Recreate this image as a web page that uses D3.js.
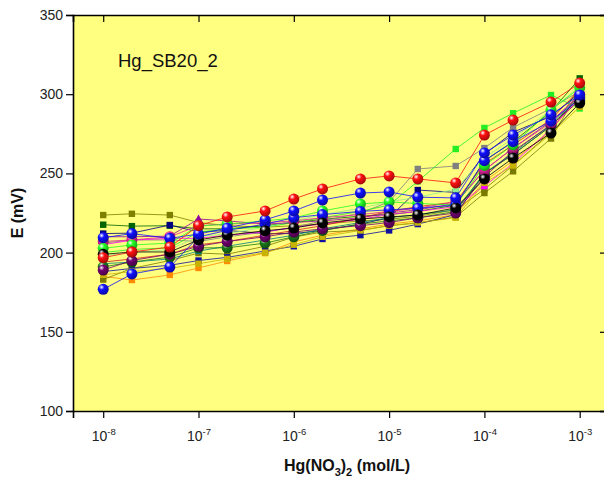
<!DOCTYPE html>
<html><head><meta charset="utf-8">
<script src="https://cdn.jsdelivr.net/npm/d3@7"></script>
<style>body{margin:0;background:#fff;} svg{display:block;}</style>
</head><body>
<svg id="chart" width="604" height="482"></svg>
<script>
// ---------- data ----------
const concentrations = [1e-8,2e-8,5e-8,1e-7,2e-7,5e-7,1e-6,2e-6,5e-6,1e-5,2e-5,5e-5,1e-4,2e-4,5e-4,1e-3];
const yTicks = [100,150,200,250,300,350];
const xTickExponents = [-8,-7,-6,-5,-4,-3];
const chartLabel = "Hg_SB20_2";

// square-marker series
const olive1   = [223.7,224.5,223.7,219,217,216,217,218,220,221,223,227,240,255,276,305];
const dkgreen1 = [217.6,216.7,217,215,215,217,219,221,223,224,226,230,258,270,289,310];
const navy1    = [212,212.3,217.4,213,214,212,212,214,218,222,239.5,238,262,276,286,301];
const gray1    = [206,208,208,207,210,213,216,220,225,232,252.8,254.7,266,279,291,302];
const green1   = [200,202,203,213,215,216,219,222,226,230,245,265.4,278.7,288,299.5,291];
const orange1  = [185,182.7,185.9,190.3,194.7,199.7,206.7,211,215,218,220,224,245,258,277,300];
const olive2   = [183,190,195,199.7,199,204,209.8,213,214,217,218.7,222.5,237.6,251.3,272,303];
const navy2    = [188,190,192,195,197,201,204,208.6,211,214,218,224,250,262,280,298];
const magenta1 = [205,207.9,209,209,211,213,216,218,221,224,226,229,242,256.3,278,298];
const red1     = [194,196,199,205,207,211,214,217,222,226,229,232,256,268,284,303];
const ltgreen1 = [198,200,202,210,212,216,220,224,228,232,235,240,260,272,290,305];
const gold1    = [186,188,190,193,196,200,205,210,214,217,219,222,244,255,275,292];
const teal1    = [193,194,196,201,204,208,211,215,219,222,224,227,250,263,281,299];
// triangle series
const purpleTri = [210,210,210.4,221.2,220,218,219,220,222,225,227,231,252,266,283,299];
// sphere-marker series
const darkgreenBall = [191,194,197.2,203,203,206,210,214,218,220,222,226,250,262,280,298];
const purpleBall    = [189,195,199,204,207,210,213,215,217,219,222,225,248,264,280.5,296];
const magentaBall   = [207,208,210,217,218,219,220,222,224,226,228,232,252,266,282,300];
const greenBall     = [202.7,204.8,206,216.7,218,220,221.9,226.3,230.7,232,231,230,255,268,290,304];
const blueBall2     = [176.8,186.5,190.9,210,214,218,222,224,226,227,228,230,258,270,283,297];
const blackBall     = [198.9,200.4,200.4,208,211,213.8,215.5,218.7,221.2,222.5,223.7,228.2,246.5,259.7,275.5,294.4];
const blueBall1     = [209.4,212,209,211.7,215.5,220.7,226.3,233.2,237.6,238.3,235,234.5,262.9,274.2,287,299.5];
const redBall       = [196.8,200.4,203.5,217,222.5,226.3,233.8,240.2,246.5,248.4,246.5,244,274.2,283.7,295,307];

// styles (kept separate from values)
const seriesList = [
  {v: olive1,   c: "#808000", m: "square"},
  {v: dkgreen1, c: "#006400", m: "square"},
  {v: navy1,    c: "#000080", m: "square"},
  {v: gray1,    c: "#808080", m: "square"},
  {v: green1,   c: "#22ee22", m: "square"},
  {v: orange1,  c: "#ff8c00", m: "square"},
  {v: olive2,   c: "#7a7a00", m: "square"},
  {v: navy2,    c: "#1010a0", m: "square"},
  {v: magenta1, c: "#ff00ff", m: "square"},
  {v: red1,     c: "#d02020", m: "square"},
  {v: ltgreen1, c: "#90ee90", m: "square"},
  {v: gold1,    c: "#c8b400", m: "square"},
  {v: teal1,    c: "#008080", m: "square"},
  {v: purpleTri,c: "#9400a0", m: "triangle"},
  {v: darkgreenBall, c: "#1a7a1a", m: "ball"},
  {v: purpleBall,    c: "#700070", m: "ball"},
  {v: magentaBall,   c: "#e0209a", m: "ball"},
  {v: greenBall,     c: "#22ff22", m: "ball"},
  {v: blueBall2,     c: "#1010ff", m: "ball"},
  {v: blackBall,     c: "#000000", m: "ball"},
  {v: blueBall1,     c: "#1010ff", m: "ball"},
  {v: redBall,       c: "#ff1010", m: "ball"}
];

// ---------- layout ----------
const svg = d3.select("#chart");
const pL = 73, pR = 608, pT = 15, pB = 411;
const x = d3.scaleLog().domain([Math.pow(10,-8.317), Math.pow(10,-2.703)]).range([pL, pR]);
const y = d3.scaleLinear().domain([100,350]).range([pB, pT]);
const font = "'Liberation Sans', Arial, sans-serif";

svg.append("rect").attr("x",pL).attr("y",pT).attr("width",pR-pL).attr("height",pB-pT).attr("fill","#ffff80");

const majorX = xTickExponents.map(e => Math.pow(10,e));
const minorX = [];
for (let e = -9; e <= -3; e++) for (let k = 2; k <= 9; k++) {
  const v = k*Math.pow(10,e);
  if (v >= x.domain()[0] && v <= x.domain()[1]) minorX.push(v);
}
const minorY = [125,175,225,275,325];

function supLabels(sel){
  sel.selectAll(".tick text").each(function(d){
    const t = d3.select(this);
    const e = Math.round(Math.log10(d));
    t.text(null);
    t.append("tspan").text("10");
    t.append("tspan").attr("dy","-6").attr("font-size","9.5px").text(String(e));
  });
}

const gData = svg.append("g");

// bottom axis
const gB = svg.append("g").attr("transform",`translate(0,${pB})`);
gB.call(d3.axisBottom(x).tickValues(minorX).tickSize(4).tickFormat(""));
gB.call(d3.axisBottom(x).tickValues(majorX).tickSize(7).tickPadding(13).tickFormat(d=>d));
gB.call(supLabels);
// top axis (ticks inward)
const gT = svg.append("g").attr("transform",`translate(0,${pT})`);
gT.call(d3.axisBottom(x).tickValues(minorX).tickSize(4).tickFormat(""));
gT.call(d3.axisBottom(x).tickValues(majorX).tickSize(7).tickFormat(""));
// left axis
const gL = svg.append("g").attr("transform",`translate(${pL},0)`);
gL.call(d3.axisLeft(y).tickValues(minorY).tickSize(4).tickFormat(""));
gL.call(d3.axisLeft(y).tickValues(yTicks).tickSize(7).tickPadding(3));
// right axis (ticks inward)
const gR = svg.append("g").attr("transform",`translate(${pR},0)`);
gR.call(d3.axisRight(y).tickValues(minorY).tickSize(-4).tickFormat(""));
gR.call(d3.axisRight(y).tickValues(yTicks).tickSize(-8).tickFormat(""));

svg.selectAll(".domain").attr("stroke","#000").attr("stroke-width",1.6);
svg.selectAll(".tick line").attr("stroke","#000").attr("stroke-width",1.2);
svg.selectAll(".tick text").attr("font-family",font).attr("font-size","14px").attr("fill","#222");
gB.selectAll(".tick text").attr("font-size","14px");

// gradients for balls
const defs = svg.append("defs");
seriesList.forEach((s,i)=>{
  if (s.m !== "ball") return;
  const g = defs.append("radialGradient").attr("id","ball"+i).attr("cx","35%").attr("cy","30%").attr("r","70%");
  g.append("stop").attr("offset","0%").attr("stop-color","#ffffff");
  g.append("stop").attr("offset","35%").attr("stop-color",s.c);
  g.append("stop").attr("offset","100%").attr("stop-color",d3.color(s.c).darker(1.2));
});

// lines + markers
const line = d3.line().x((d,i)=>x(concentrations[i])).y(d=>y(d));
seriesList.forEach((s,i)=>{
  gData.append("path").datum(s.v).attr("d",line).attr("fill","none").attr("stroke",s.c).attr("stroke-width",0.9).attr("opacity",0.9);
});
seriesList.forEach((s,i)=>{
  const g = gData.append("g");
  const pts = s.v.map((v,j)=>({cx:x(concentrations[j]), cy:y(v)}));
  if (s.m === "square") {
    g.selectAll("rect").data(pts).join("rect")
      .attr("x",d=>d.cx-3.2).attr("y",d=>d.cy-3.2).attr("width",6.4).attr("height",6.4).attr("fill",s.c);
  } else if (s.m === "triangle") {
    g.selectAll("path").data(pts).join("path")
      .attr("d",d=>`M${d.cx},${d.cy-4.5}L${d.cx+4.2},${d.cy+3.2}L${d.cx-4.2},${d.cy+3.2}Z`).attr("fill",s.c);
  } else {
    g.selectAll("circle").data(pts).join("circle")
      .attr("cx",d=>d.cx).attr("cy",d=>d.cy).attr("r",5.5).attr("fill",`url(#ball${i})`);
  }
});

// texts
svg.append("text").attr("x",118).attr("y",66.5).attr("font-family",font).attr("font-size","18.5px").attr("fill","#111").text(chartLabel);

svg.append("text").attr("transform","translate(23,213) rotate(-90)").attr("text-anchor","middle")
  .attr("font-family",font).attr("font-weight","bold").attr("font-size","16px").attr("fill","#111").text("E (mV)");

const xt = svg.append("text").attr("x",347).attr("y",471).attr("text-anchor","middle")
  .attr("font-family",font).attr("font-weight","bold").attr("font-size","16px").attr("fill","#111");
xt.append("tspan").text("Hg(NO");
xt.append("tspan").attr("dy","5").attr("font-size","11px").text("3");
xt.append("tspan").attr("dy","-5").text(")");
xt.append("tspan").attr("dy","5").attr("font-size","11px").text("2");
xt.append("tspan").attr("dy","-5").text(" (mol/L)");
</script>
</body></html>
